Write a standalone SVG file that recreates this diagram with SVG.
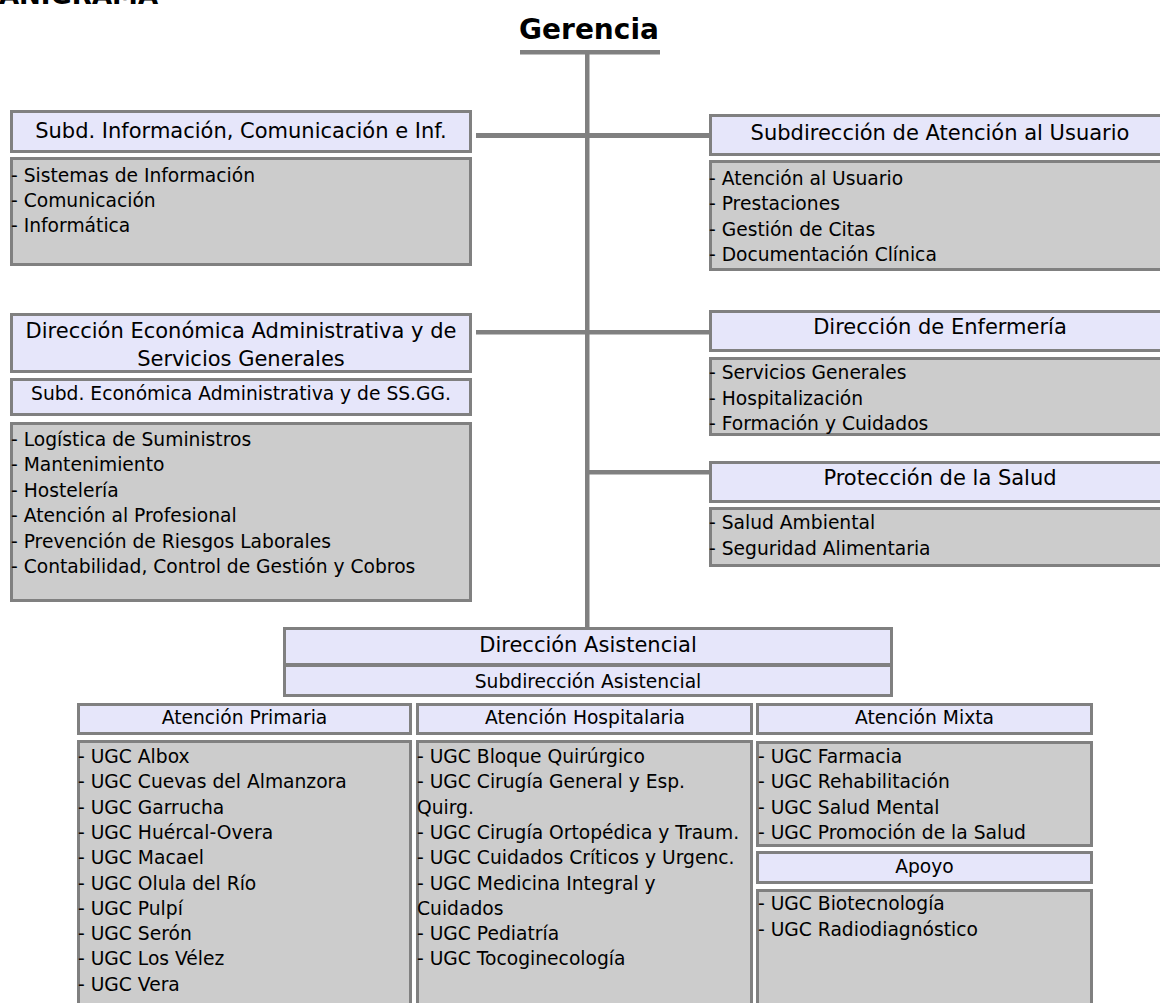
<svg xmlns="http://www.w3.org/2000/svg" width="1160" height="1003" viewBox="0 0 1160 1003">
<style>
.hdr{fill:#E6E6FA;stroke:#808080;stroke-width:3}
.lst{fill:#CCCCCC;stroke:#808080;stroke-width:3}
.conn{fill:#808080}
text{font-family:'DejaVu Sans','Liberation Sans',sans-serif;fill:#000}
.t{font-size:18.7px}
.h{font-size:21px;text-anchor:middle}
.m{font-size:18.7px;text-anchor:middle}
.b{font-weight:bold}
</style>
<rect width="1160" height="1003" fill="#FFFFFF"/>
<text class="b" x="158" y="4" font-size="26" text-anchor="end">ORGANIGRAMA</text>
<g id="connectors">
<rect class="conn" x="585" y="50" width="4.5" height="577"/>
<rect class="conn" x="520" y="50" width="140" height="4.5"/>
<rect class="conn" x="476" y="133" width="233" height="5"/>
<rect class="conn" x="476" y="330" width="233" height="4.5"/>
<rect class="conn" x="589" y="470" width="120" height="4.5"/>
</g>
<g id="gerencia">
<text class="b" x="589" y="39" font-size="28" text-anchor="middle">Gerencia</text>
</g>
<g id="subd-informacion">
<rect class="hdr" x="11.5" y="111.5" width="459" height="40"/>
<text class="h" x="241" y="138" font-size="21.5">Subd. Información, Comunicación e Inf.</text>
<rect class="lst" x="11.5" y="158.5" width="459" height="106"/>
<text class="t" x="11" y="182">- Sistemas de Información</text>
<text class="t" x="11" y="207">- Comunicación</text>
<text class="t" x="11" y="232">- Informática</text>
</g>
<g id="subd-atencion-usuario">
<rect class="hdr" x="710.5" y="115.5" width="460" height="39"/>
<text class="h" x="940" y="140">Subdirección de Atención al Usuario</text>
<rect class="lst" x="710.5" y="161.5" width="460" height="108"/>
<text class="t" x="709" y="185">- Atención al Usuario</text>
<text class="t" x="709" y="210">- Prestaciones</text>
<text class="t" x="709" y="236">- Gestión de Citas</text>
<text class="t" x="709" y="261">- Documentación Clínica</text>
</g>
<g id="direccion-economica">
<rect class="hdr" x="11.5" y="314.5" width="459" height="57"/>
<text class="h" x="241" y="338">Dirección Económica Administrativa y de</text>
<text class="h" x="241" y="366">Servicios Generales</text>
<rect class="hdr" x="11.5" y="379.5" width="459" height="35"/>
<text class="m" x="241" y="400">Subd. Económica Administrativa y de SS.GG.</text>
<rect class="lst" x="11.5" y="423.5" width="459" height="177"/>
<text class="t" x="11" y="446">- Logística de Suministros</text>
<text class="t" x="11" y="471">- Mantenimiento</text>
<text class="t" x="11" y="497">- Hostelería</text>
<text class="t" x="11" y="522">- Atención al Profesional</text>
<text class="t" x="11" y="548">- Prevención de Riesgos Laborales</text>
<text class="t" x="11" y="573">- Contabilidad, Control de Gestión y Cobros</text>
</g>
<g id="direccion-enfermeria">
<rect class="hdr" x="710.5" y="311.5" width="460" height="39"/>
<text class="h" x="940" y="334">Dirección de Enfermería</text>
<rect class="lst" x="710.5" y="358.5" width="460" height="76"/>
<text class="t" x="709" y="379">- Servicios Generales</text>
<text class="t" x="709" y="404.5">- Hospitalización</text>
<text class="t" x="709" y="430">- Formación y Cuidados</text>
</g>
<g id="proteccion-salud">
<rect class="hdr" x="710.5" y="462.5" width="460" height="39"/>
<text class="h" x="940" y="485">Protección de la Salud</text>
<rect class="lst" x="710.5" y="508.5" width="460" height="57"/>
<text class="t" x="709" y="529">- Salud Ambiental</text>
<text class="t" x="709" y="555">- Seguridad Alimentaria</text>
</g>
<g id="direccion-asistencial">
<rect class="hdr" x="284.5" y="628.5" width="607" height="36"/>
<text class="h" x="588" y="652" font-size="20.5">Dirección Asistencial</text>
<rect class="hdr" x="284.5" y="665.5" width="607" height="30"/>
<text class="m" x="588" y="688">Subdirección Asistencial</text>
</g>
<g id="atencion-primaria">
<rect class="hdr" x="78.5" y="704.5" width="332" height="29"/>
<text class="m" x="244.5" y="724">Atención Primaria</text>
<rect class="lst" x="78.5" y="741.5" width="332" height="270"/>
<text class="t" x="78" y="763">- UGC Albox</text>
<text class="t" x="78" y="788.3">- UGC Cuevas del Almanzora</text>
<text class="t" x="78" y="813.6">- UGC Garrucha</text>
<text class="t" x="78" y="838.9">- UGC Huércal-Overa</text>
<text class="t" x="78" y="864.2">- UGC Macael</text>
<text class="t" x="78" y="889.5">- UGC Olula del Río</text>
<text class="t" x="78" y="914.8">- UGC Pulpí</text>
<text class="t" x="78" y="940.1">- UGC Serón</text>
<text class="t" x="78" y="965.4">- UGC Los Vélez</text>
<text class="t" x="78" y="990.7">- UGC Vera</text>
</g>
<g id="atencion-hospitalaria">
<rect class="hdr" x="417.5" y="704.5" width="334" height="29"/>
<text class="m" x="585" y="724">Atención Hospitalaria</text>
<rect class="lst" x="417.5" y="741.5" width="334" height="270"/>
<text class="t" x="417" y="763">- UGC Bloque Quirúrgico</text>
<text class="t" x="417" y="788.3">- UGC Cirugía General y Esp.</text>
<text class="t" x="417" y="813.6">Quirg.</text>
<text class="t" x="417" y="838.9">- UGC Cirugía Ortopédica y Traum.</text>
<text class="t" x="417" y="864.2">- UGC Cuidados Críticos y Urgenc.</text>
<text class="t" x="417" y="889.5">- UGC Medicina Integral y</text>
<text class="t" x="417" y="914.8">Cuidados</text>
<text class="t" x="417" y="940.1">- UGC Pediatría</text>
<text class="t" x="417" y="965.4">- UGC Tocoginecología</text>
</g>
<g id="atencion-mixta">
<rect class="hdr" x="757.5" y="704.5" width="334" height="29"/>
<text class="m" x="924.5" y="724">Atención Mixta</text>
<rect class="lst" x="757.5" y="742.5" width="334" height="103"/>
<text class="t" x="758" y="763">- UGC Farmacia</text>
<text class="t" x="758" y="788.3">- UGC Rehabilitación</text>
<text class="t" x="758" y="813.6">- UGC Salud Mental</text>
<text class="t" x="758" y="838.9">- UGC Promoción de la Salud</text>
</g>
<g id="apoyo">
<rect class="hdr" x="757.5" y="852.5" width="334" height="30"/>
<text class="m" x="924.5" y="873">Apoyo</text>
<rect class="lst" x="757.5" y="890.5" width="334" height="120"/>
<text class="t" x="758" y="910">- UGC Biotecnología</text>
<text class="t" x="758" y="936">- UGC Radiodiagnóstico</text>
</g>
</svg>
